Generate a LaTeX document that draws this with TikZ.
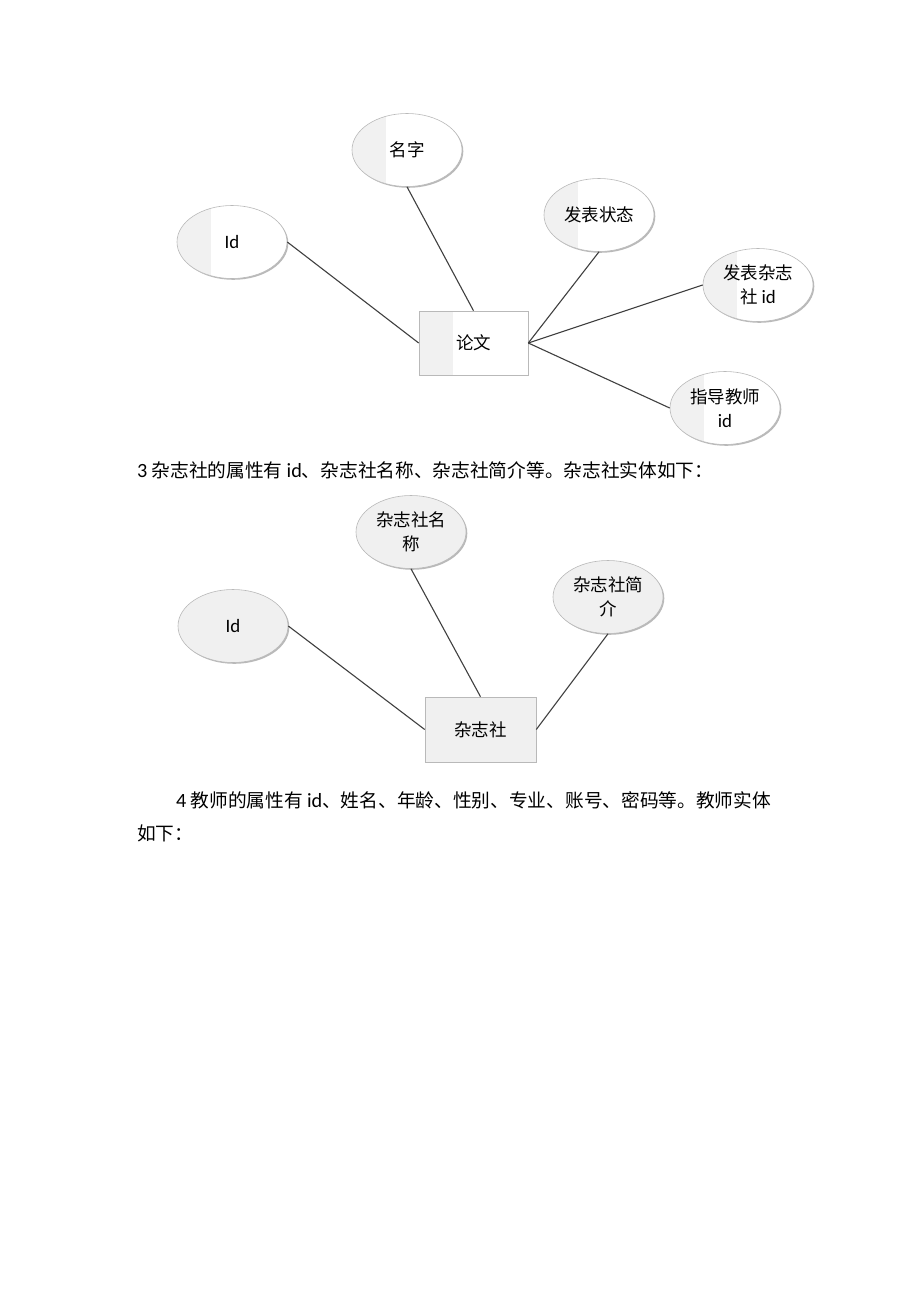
\documentclass[tikz,border=0pt]{standalone}
\usepackage{fontspec}
\setmainfont{Noto Sans CJK SC}
\newfontfamily\lat[Scale=1.08]{Carlito}
\usetikzlibrary{shapes.geometric,shadows}
\begin{document}
\begin{tikzpicture}[x=1pt,y=-1pt,
  shad/.style={drop shadow={shadow xshift=1.3pt,shadow yshift=-1.3pt,fill=gray!55,opacity=1}},
  attr/.style={ellipse,draw=gray!55,line width=0.6pt,minimum width=110pt,minimum height=73pt,
    inner sep=0pt,align=center,font=\fontsize{17.5}{24.5}\selectfont,shad},
  ent/.style={rectangle,draw=gray!55,line width=0.6pt,minimum width=109pt,minimum height=64pt,
    inner sep=0pt,align=center,font=\fontsize{17.5}{24.5}\selectfont,shad},
  half/.style={fill=white,path picture={\fill[gray!11] (path picture bounding box.south west) rectangle ([xshift=34pt]path picture bounding box.north west);}},
  full/.style={fill=gray!12},
  conn/.style={draw=black!75,line width=1.1pt},
  body/.style={anchor=west,inner sep=0pt,font=\fontsize{18.7}{24}\selectfont}
]
\useasboundingbox (0,0) rectangle (920,1302);
\fill[white] (0,0) rectangle (920,1302);

% ---- diagram 1 ----
\node[attr,half] (name) at (407,150) {名字};
\node[attr,half] (id1) at (232,242) {\lat Id};
\node[attr,half] (state) at (599,215) {发表状态};
\node[attr,half] (pubid) at (758,285) {发表杂志\\社 {\lat id}};
\node[attr,half] (tid) at (725,408) {指导教师\\{\lat id}};
\node[ent,half] (paper) at (473.5,343) {论文};

\draw[conn] (id1.east) -- (paper.west);
\draw[conn] (name.south) -- (paper.north);
\draw[conn] (state.south) -- (paper.east);
\draw[conn] (pubid.west) -- (paper.east);
\draw[conn] (tid.west) -- (paper.east);

% ---- text ----
\node[body] (t3) at (137,470) {{\lat 3} 杂志社的属性有 {\lat id}、杂志社名称、杂志社简介等。杂志社实体如下：};

% ---- diagram 2 ----
\node[attr,full] (mname) at (411,532) {杂志社名\\称};
\node[attr,full] (mintro) at (608,597) {杂志社简\\介};
\node[attr,full] (id2) at (233,626) {\lat Id};
\node[ent,full,minimum width=111pt,minimum height=65pt] (mag) at (480.5,729.5) {杂志社};

\draw[conn] (id2.east) -- (mag.west);
\draw[conn] (mname.south) -- (mag.north);
\draw[conn] (mintro.south) -- (mag.east);

% ---- text ----
\node[body] (t4) at (176,800) {{\lat 4} 教师的属性有 {\lat id}、姓名、年龄、性别、专业、账号、密码等。教师实体};
\node[body] (t4b) at (137,833) {如下：};
\end{tikzpicture}
\end{document}
